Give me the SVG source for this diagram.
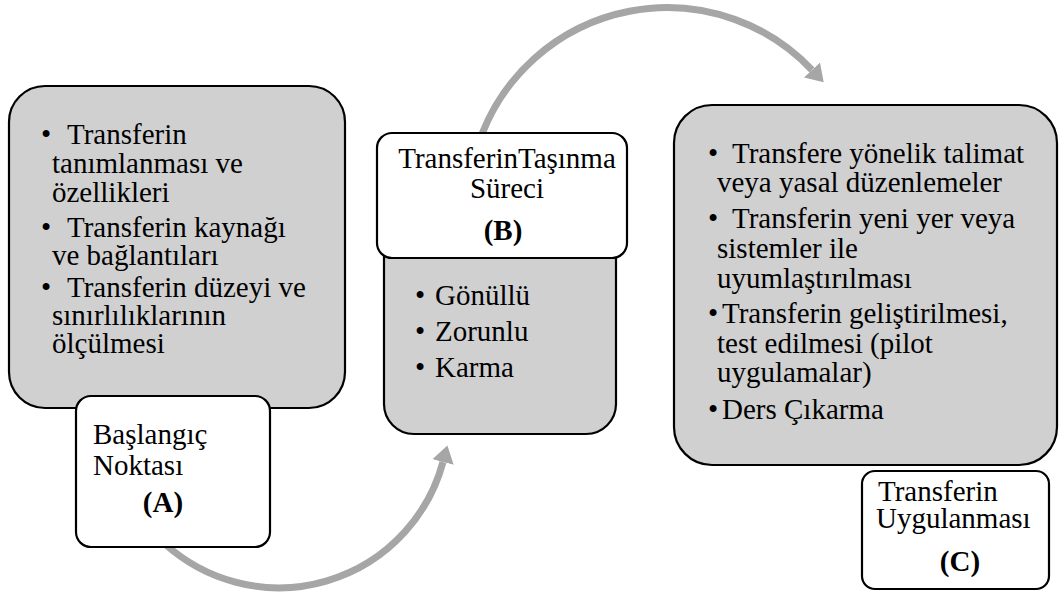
<svg xmlns="http://www.w3.org/2000/svg" width="1060" height="594" viewBox="0 0 1060 594">
<style>
  .gray { fill: #d0d0d0; stroke: #000; stroke-width: 2.2; }
  .white { fill: #fff; stroke: #000; stroke-width: 2.2; }
  text { font-family: "Liberation Serif", "DejaVu Serif", serif; font-size: 29px; font-weight: normal; font-style: normal; fill: #000; }
  text.b { font-weight: bold; }
  .mid { text-anchor: middle; }
  .arc { fill: none; stroke: #a6a6a6; stroke-width: 7; }
</style>
<defs>
  <marker id="head" markerUnits="userSpaceOnUse" markerWidth="24" markerHeight="26" refX="0" refY="11" orient="auto" viewBox="0 0 24 22">
    <path d="M0,0 L17,11 L0,22 Z" fill="#a6a6a6"/>
  </marker>
</defs>
<rect width="1060" height="594" fill="#fff"/>
<g id="connectors">
  <path class="arc" d="M165,544 A170,170 0 0,0 443,462" marker-end="url(#head)"/>
  <path class="arc" d="M482,134 A199,199 0 0,1 812,70" marker-end="url(#head)"/>
</g>
<g id="nodeA">
  <rect class="gray" x="9" y="86" width="336" height="322" rx="36" ry="36"/>
  <text x="41" y="144">•</text><text x="67" y="144">Transferin</text>
  <text x="52" y="173">tanımlanması ve</text>
  <text x="52" y="202">özellikleri</text>
  <text x="41" y="237">•</text><text x="67" y="237">Transferin kaynağı</text>
  <text x="52" y="265">ve bağlantıları</text>
  <text x="41" y="297">•</text><text x="67" y="297">Transferin düzeyi ve</text>
  <text x="52" y="325">sınırlılıklarının</text>
  <text x="52" y="353">ölçülmesi</text>
  <rect class="white" x="76" y="396" width="194" height="151" rx="15" ry="15"/>
  <text x="93" y="444">Başlangıç</text>
  <text x="93" y="475">Noktası</text>
  <text class="b mid" x="163" y="512">(A)</text>
</g>
<g id="nodeB">
  <rect class="gray" x="384" y="160" width="232" height="274" rx="30" ry="30"/>
  <rect class="white" x="377" y="133" width="250" height="125" rx="15" ry="15"/>
  <text class="mid" x="507" y="168">TransferinTaşınma</text>
  <text class="mid" x="507" y="198">Süreci</text>
  <text class="b mid" x="503" y="240">(B)</text>
  <text x="415" y="305">•</text><text x="435" y="305">Gönüllü</text>
  <text x="415" y="341">•</text><text x="435" y="341">Zorunlu</text>
  <text x="415" y="377">•</text><text x="435" y="377">Karma</text>
</g>
<g id="nodeC">
  <rect class="gray" x="674" y="105" width="383" height="360" rx="38" ry="38"/>
  <text x="708" y="163">•</text><text x="732" y="163">Transfere yönelik talimat</text>
  <text x="717" y="192">veya yasal düzenlemeler</text>
  <text x="708" y="228">•</text><text x="732" y="228">Transferin yeni yer veya</text>
  <text x="717" y="258">sistemler ile</text>
  <text x="717" y="288">uyumlaştırılması</text>
  <text x="708" y="323">•</text><text x="722" y="323">Transferin geliştirilmesi,</text>
  <text x="717" y="353">test edilmesi (pilot</text>
  <text x="717" y="382">uygulamalar)</text>
  <text x="708" y="419">•</text><text x="722" y="419">Ders Çıkarma</text>
  <rect class="white" x="862" y="471" width="187" height="118" rx="13" ry="13"/>
  <text x="878" y="501">Transferin</text>
  <text x="876" y="528">Uygulanması</text>
  <text class="b mid" x="960" y="571">(C)</text>
</g>
</svg>
